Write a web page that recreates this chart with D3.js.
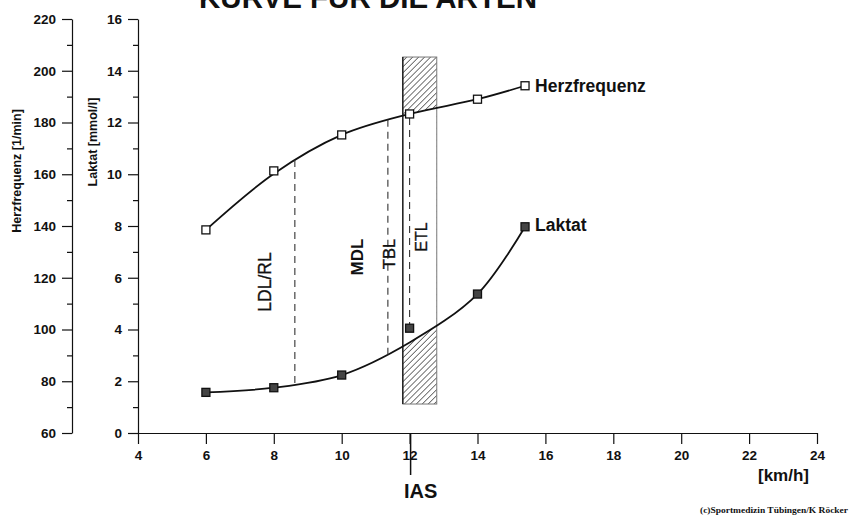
<!DOCTYPE html>
<html>
<head>
<meta charset="utf-8">
<script src="https://cdn.jsdelivr.net/npm/d3@7"></script>
<style>
  html, body { margin: 0; padding: 0; background: #fff; }
  svg { display: block; }
  text { font-family: "Liberation Sans", Arial, Helvetica, sans-serif; fill: #111; }
  .tick text { font-weight: bold; }
  .domain, .tick line { stroke: #111; stroke-width: 1.2; }
</style>
</head>
<body>
<svg id="chart" width="851" height="521"></svg>
<script>
// Running speeds of the test stages [km/h]
const speeds = [6, 8, 10, 12, 14, 15.4];
// Heart rate at each stage [1/min]
const heartRate = [138.5, 161.3, 175.2, 183.3, 189, 194.2];
// Smoothed heart rate curve through the stages [1/min]
const heartRateFit = [138.5, 160.2, 175.2, 183.3, 189, 194.2];
// Measured lactate at each stage [mmol/l]
const lactate = [1.57, 1.75, 2.24, 4.05, 5.37, 7.97];
// Smoothed lactate curve through the stages [mmol/l]
const lactateFit = [1.57, 1.75, 2.24, 3.5, 5.37, 7.97];

// Axis ticks
const speedTicks = [4, 6, 8, 10, 12, 14, 16, 18, 20, 22, 24];
const hrTicks = [60, 80, 100, 120, 140, 160, 180, 200, 220];
const hrMinor = [70, 90, 110, 130, 150, 170, 190, 210];
const lacTicks = [0, 2, 4, 6, 8, 10, 12, 14, 16];
const lacMinor = [1, 3, 5, 7, 9, 11, 13, 15];

// Training zone boundaries [km/h] and their labels
const zoneBounds = [8.62, 11.36];
const zoneLabels = ["LDL/RL", "MDL", "TBL", "ETL"];
const iasSpeed = 12;                 // individual anaerobic threshold
const iasZoneSpeed = [11.8, 12.8];   // hatched band, speed range
const iasZoneLactate = [1.12, 14.53];// hatched band, lactate range

const svg = d3.select("#chart");

const x = d3.scaleLinear().domain([4, 24]).range([138, 817]);
const yLac = d3.scaleLinear().domain([0, 16]).range([433, 19]);
const yHr = d3.scaleLinear().domain([60, 220]).range([433, 19]);

// hatch pattern for the IAS band
const defs = svg.append("defs");
defs.append("pattern")
  .attr("id", "hatch").attr("width", 4.2).attr("height", 4.2)
  .attr("patternUnits", "userSpaceOnUse").attr("patternTransform", "rotate(45)")
  .append("line").attr("x1", 0).attr("y1", -1).attr("x2", 0).attr("y2", 6)
  .attr("stroke", "#1a1a1a").attr("stroke-width", 1.2);

const bx0 = x(iasZoneSpeed[0]), bx1 = x(iasZoneSpeed[1]);
const by0 = yLac(iasZoneLactate[1]), by1 = yLac(iasZoneLactate[0]);
defs.append("clipPath").attr("id", "bandClip")
  .append("rect").attr("x", bx0).attr("y", by0).attr("width", bx1 - bx0).attr("height", by1 - by0);

// Title (runs off the top edge of the sheet)
svg.append("text")
  .attr("x", 199).attr("y", 8)
  .attr("textLength", 338).attr("lengthAdjust", "spacingAndGlyphs")
  .style("font-size", "29px").style("font-weight", "bold")
  .text("KURVE FÜR DIE ARTEN");

// Axes
svg.append("g").attr("transform", "translate(72,0)")
  .call(d3.axisLeft(yHr).tickValues(hrTicks).tickSize(10).tickSizeOuter(0).tickPadding(6));
svg.append("g").attr("transform", "translate(72,0)")
  .call(d3.axisLeft(yHr).tickValues(hrMinor).tickSize(5).tickFormat(""))
  .select(".domain").remove();

svg.append("g").attr("transform", "translate(138,0)")
  .call(d3.axisLeft(yLac).tickValues(lacTicks).tickSize(10).tickSizeOuter(0).tickPadding(6));
svg.append("g").attr("transform", "translate(138,0)")
  .call(d3.axisLeft(yLac).tickValues(lacMinor).tickSize(5).tickFormat(""))
  .select(".domain").remove();

svg.append("g").attr("transform", "translate(0,433)")
  .call(d3.axisBottom(x).tickValues(speedTicks).tickSize(11).tickSizeOuter(0).tickPadding(6));

svg.selectAll(".tick text").style("font-size", "13.5px");

// Axis titles
svg.append("text")
  .attr("transform", "translate(17,171) rotate(-90)")
  .attr("text-anchor", "middle").attr("dominant-baseline", "central")
  .style("font-size", "12.5px").style("font-weight", "bold")
  .text("Herzfrequenz  [1/min]");
svg.append("text")
  .attr("transform", "translate(93,142) rotate(-90)")
  .attr("text-anchor", "middle").attr("dominant-baseline", "central")
  .style("font-size", "12.5px").style("font-weight", "bold")
  .text("Laktat  [mmol/l]");

// Curves
const hrFitPts = speeds.map((s, i) => [x(s), yHr(heartRateFit[i])]);
const lacFitPts = speeds.map((s, i) => [x(s), yLac(lactateFit[i])]);
const line = d3.line().curve(d3.curveCatmullRom.alpha(0.5));

// hatched IAS band, left white between the two curves
svg.append("rect")
  .attr("x", bx0).attr("y", by0).attr("width", bx1 - bx0).attr("height", by1 - by0)
  .attr("fill", "url(#hatch)");
const between = line(hrFitPts) + "L" + line(lacFitPts.slice().reverse()).slice(1) + "Z";
svg.append("path").attr("d", between).attr("fill", "#fff").attr("clip-path", "url(#bandClip)");
svg.append("rect")
  .attr("x", bx0).attr("y", by0).attr("width", bx1 - bx0).attr("height", by1 - by0)
  .attr("fill", "none").attr("stroke", "#777").attr("stroke-width", 1);
svg.append("line")
  .attr("x1", bx0).attr("x2", bx0).attr("y1", by0).attr("y2", by1)
  .attr("stroke", "#111").attr("stroke-width", 1.3);

const hrPath = svg.append("path").attr("d", line(hrFitPts))
  .attr("fill", "none").attr("stroke", "#111").attr("stroke-width", 1.8);
const lacPath = svg.append("path").attr("d", line(lacFitPts))
  .attr("fill", "none").attr("stroke", "#111").attr("stroke-width", 1.8);

// y of a path at a given screen x (paths run left to right)
function yOnPath(node, px) {
  let lo = 0, hi = node.getTotalLength();
  for (let i = 0; i < 40; i++) {
    const mid = (lo + hi) / 2;
    if (node.getPointAtLength(mid).x < px) lo = mid; else hi = mid;
  }
  return node.getPointAtLength((lo + hi) / 2).y;
}

// dashed zone boundaries between the curves
const dashStyle = sel => sel.attr("stroke", "#333").attr("stroke-width", 1.1).attr("stroke-dasharray", "7,5");
zoneBounds.forEach(s => {
  const px = x(s);
  svg.append("line").attr("x1", px).attr("x2", px)
    .attr("y1", yOnPath(hrPath.node(), px)).attr("y2", yOnPath(lacPath.node(), px))
    .call(dashStyle);
});
const iasIdx = speeds.indexOf(iasSpeed);
svg.append("line").attr("x1", x(iasSpeed)).attr("x2", x(iasSpeed))
  .attr("y1", yHr(heartRate[iasIdx]) + 4).attr("y2", yLac(lactate[iasIdx]) - 4)
  .call(dashStyle);

// markers
const sq = 8;
svg.append("g").selectAll("rect").data(speeds).join("rect")
  .attr("x", (s) => x(s) - sq / 2).attr("y", (s, i) => yHr(heartRate[i]) - sq / 2)
  .attr("width", sq).attr("height", sq)
  .attr("fill", "#fff").attr("stroke", "#111").attr("stroke-width", 1.3);
svg.append("g").selectAll("rect").data(speeds).join("rect")
  .attr("x", (s) => x(s) - sq / 2).attr("y", (s, i) => yLac(lactate[i]) - sq / 2)
  .attr("width", sq).attr("height", sq)
  .attr("fill", "#444").attr("stroke", "#111").attr("stroke-width", 1.3);

// series labels
const last = speeds.length - 1;
svg.append("text").attr("x", x(speeds[last]) + 10).attr("y", yHr(heartRate[last]) + 6)
  .style("font-size", "17.5px").style("font-weight", "bold").text("Herzfrequenz");
svg.append("text").attr("x", x(speeds[last]) + 10).attr("y", yLac(lactate[last]) + 4)
  .style("font-size", "17.5px").style("font-weight", "bold").text("Laktat");

// zone labels (vertical)
const zoneLabelPos = [
  { cx: 265, cy: 282, size: 17.5, weight: "normal" },
  { cx: 357, cy: 257, size: 17, weight: "bold" },
  { cx: 389, cy: 254, size: 16.5, weight: "normal" },
  { cx: 421, cy: 237, size: 16, weight: "normal" }
];
zoneLabels.forEach((t, i) => {
  const p = zoneLabelPos[i];
  svg.append("text")
    .attr("transform", `translate(${p.cx},${p.cy}) rotate(-90)`)
    .attr("text-anchor", "middle").attr("dominant-baseline", "central")
    .style("font-size", p.size + "px").style("font-weight", p.weight)
    .style("stroke", "#111").style("stroke-width", i === 1 ? 0 : 0.35)
    .text(t);
});

// IAS marker under the speed axis
svg.append("line").attr("x1", x(iasSpeed) + 1).attr("x2", x(iasSpeed) + 1)
  .attr("y1", 434).attr("y2", 475).attr("stroke", "#111").attr("stroke-width", 1.5);
svg.append("text").attr("x", x(iasSpeed) + 11).attr("y", 498)
  .attr("text-anchor", "middle")
  .style("font-size", "20px").style("font-weight", "bold").text("IAS");

// unit of the speed axis
svg.append("text").attr("x", 758).attr("y", 481)
  .style("font-size", "17px").style("font-weight", "bold").text("[km/h]");

// credit line
svg.append("text").attr("x", 700).attr("y", 513)
  .attr("textLength", 148).attr("lengthAdjust", "spacingAndGlyphs")
  .style("font-family", "'Liberation Serif', 'Times New Roman', serif")
  .style("font-size", "8.5px").style("font-weight", "bold")
  .text("(c)Sportmedizin Tübingen/K Röcker");
</script>
</body>
</html>
